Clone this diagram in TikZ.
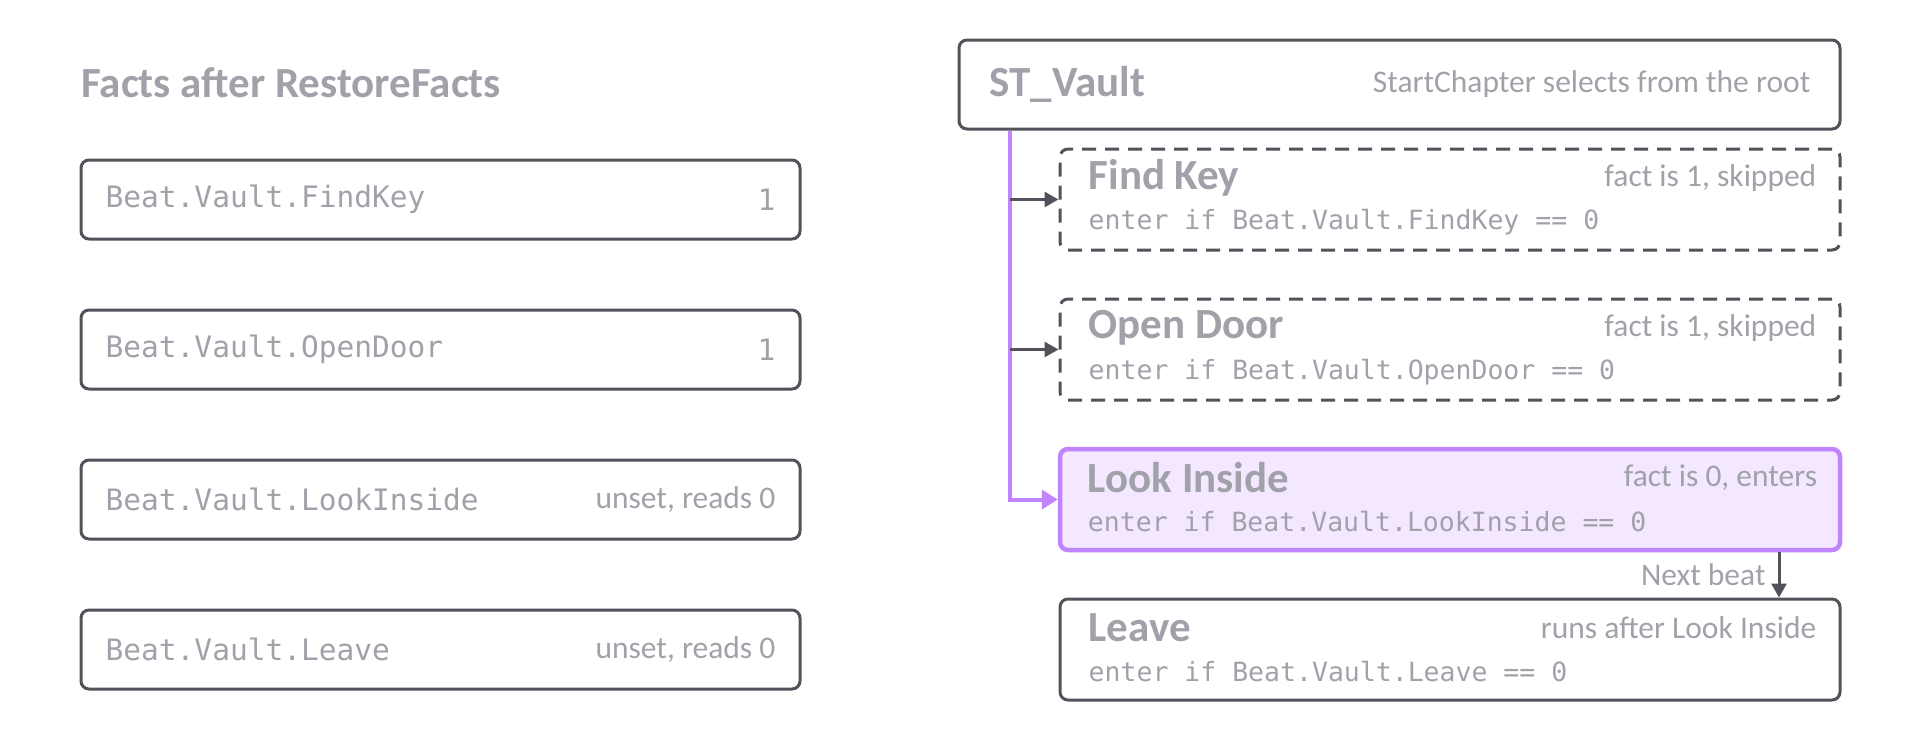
\documentclass[tikz,border=0pt]{standalone}
\usepackage{fontspec}
\setmainfont{Carlito}
\setmonofont{DejaVu Sans Mono}
\usetikzlibrary{arrows.meta,positioning}
\definecolor{inkgray}{HTML}{A1A1AA}
\definecolor{edgegray}{HTML}{52525B}
\definecolor{violetline}{HTML}{C084FC}
\definecolor{violetfill}{HTML}{F3E8FF}
\tikzset{
  factbox/.style={draw=edgegray, line width=3pt, rounded corners=8pt,
    minimum width=719pt, minimum height=79pt, inner sep=0pt},
  beatbox/.style={draw=edgegray, line width=3pt, rounded corners=8pt,
    minimum width=780pt, minimum height=101pt, inner sep=0pt},
  skipped/.style={beatbox, dash pattern=on 14pt off 9pt},
  entered/.style={beatbox, draw=violetline, line width=4.5pt, fill=violetfill},
  keytext/.style={inkgray, font=\ttfamily\fontsize{29.5}{34}\selectfont, inner sep=0pt},
  codetext/.style={inkgray, font=\ttfamily\fontsize{26.5}{30}\selectfont, inner sep=0pt},
  notetext/.style={inkgray, font=\fontsize{31.5}{36}\selectfont, inner sep=0pt},
  titletext/.style={inkgray, font=\bfseries\fontsize{43}{48}\selectfont, inner sep=0pt},
  darkarrow/.style={draw=edgegray, line width=3pt, -{Triangle[length=14pt,width=15pt]}},
  violetarrow/.style={draw=violetline, line width=4pt, -{Triangle[length=16pt,width=19pt]}},
}
\begin{document}
\begin{tikzpicture}[x=1pt, y=-1pt]
\useasboundingbox (0,0) rectangle (1920,740);

% facts column
\node[titletext, anchor=west] (facts) at (81,83) {Facts after RestoreFacts};

\node[factbox] (f1) at (440.5,199.5) {};
\node[factbox] (f2) at (440.5,349.5) {};
\node[factbox] (f3) at (440.5,499.5) {};
\node[factbox] (f4) at (440.5,649.5) {};

\node[keytext, anchor=west] (f1k) at ([xshift=26pt]f1.west) {Beat.Vault.FindKey};
\node[keytext, anchor=east] (f1v) at ([xshift=-26pt]f1.east) {1};
\node[keytext, anchor=west] (f2k) at ([xshift=26pt]f2.west) {Beat.Vault.OpenDoor};
\node[keytext, anchor=east] (f2v) at ([xshift=-26pt]f2.east) {1};
\node[keytext, anchor=west] (f3k) at ([xshift=26pt]f3.west) {Beat.Vault.LookInside};
\node[notetext, anchor=east] (f3v) at ([xshift=-26pt]f3.east) {unset, reads 0};
\node[keytext, anchor=west] (f4k) at ([xshift=26pt]f4.west) {Beat.Vault.Leave};
\node[notetext, anchor=east] (f4v) at ([xshift=-26pt]f4.east) {unset, reads 0};

% beat tree
\node[beatbox, minimum width=881pt, minimum height=89pt] (root) at (1399.5,84.5) {};
\node[titletext, anchor=west] at ([xshift=32pt]root.west) {ST\_Vault};
\node[notetext, anchor=east] at ([xshift=-31pt]root.east) {StartChapter selects from the root};

\node[skipped] (find) at (1450,199.5) {};
\node[skipped] (open) at (1450,349.5) {};
\node[entered] (look) at (1450,499.5) {};
\node[beatbox] (leave) at (1450,649.5) {};

\foreach \b/\t/\n/\c in {find/Find Key/{fact is 1, skipped}/FindKey,
    open/Open Door/{fact is 1, skipped}/OpenDoor,
    look/Look Inside/{fact is 0, enters}/LookInside,
    leave/Leave/runs after Look Inside/Leave}{
  \node[titletext, anchor=west] at ([xshift=30pt,yshift=21.5pt]\b.west) {\t};
  \node[notetext, anchor=east] at ([xshift=-25pt,yshift=21.5pt]\b.east) {\n};
  \node[codetext, anchor=west] at ([xshift=30pt,yshift=-22.5pt]\b.west) {enter if Beat.Vault.\c{} == 0};
}

\coordinate (spine) at (1010,0);
\coordinate (nextx) at (1779,0);

\draw[violetarrow] (root.south -| spine) |- (look.west);
\draw[darkarrow] (find.west -| spine) -- (find.west);
\draw[darkarrow] (open.west -| spine) -- (open.west);
\draw[darkarrow] (look.south -| nextx) -- (leave.north -| nextx)
  node[midway, notetext, anchor=east, xshift=-12pt] {Next beat};

\end{tikzpicture}
\end{document}
